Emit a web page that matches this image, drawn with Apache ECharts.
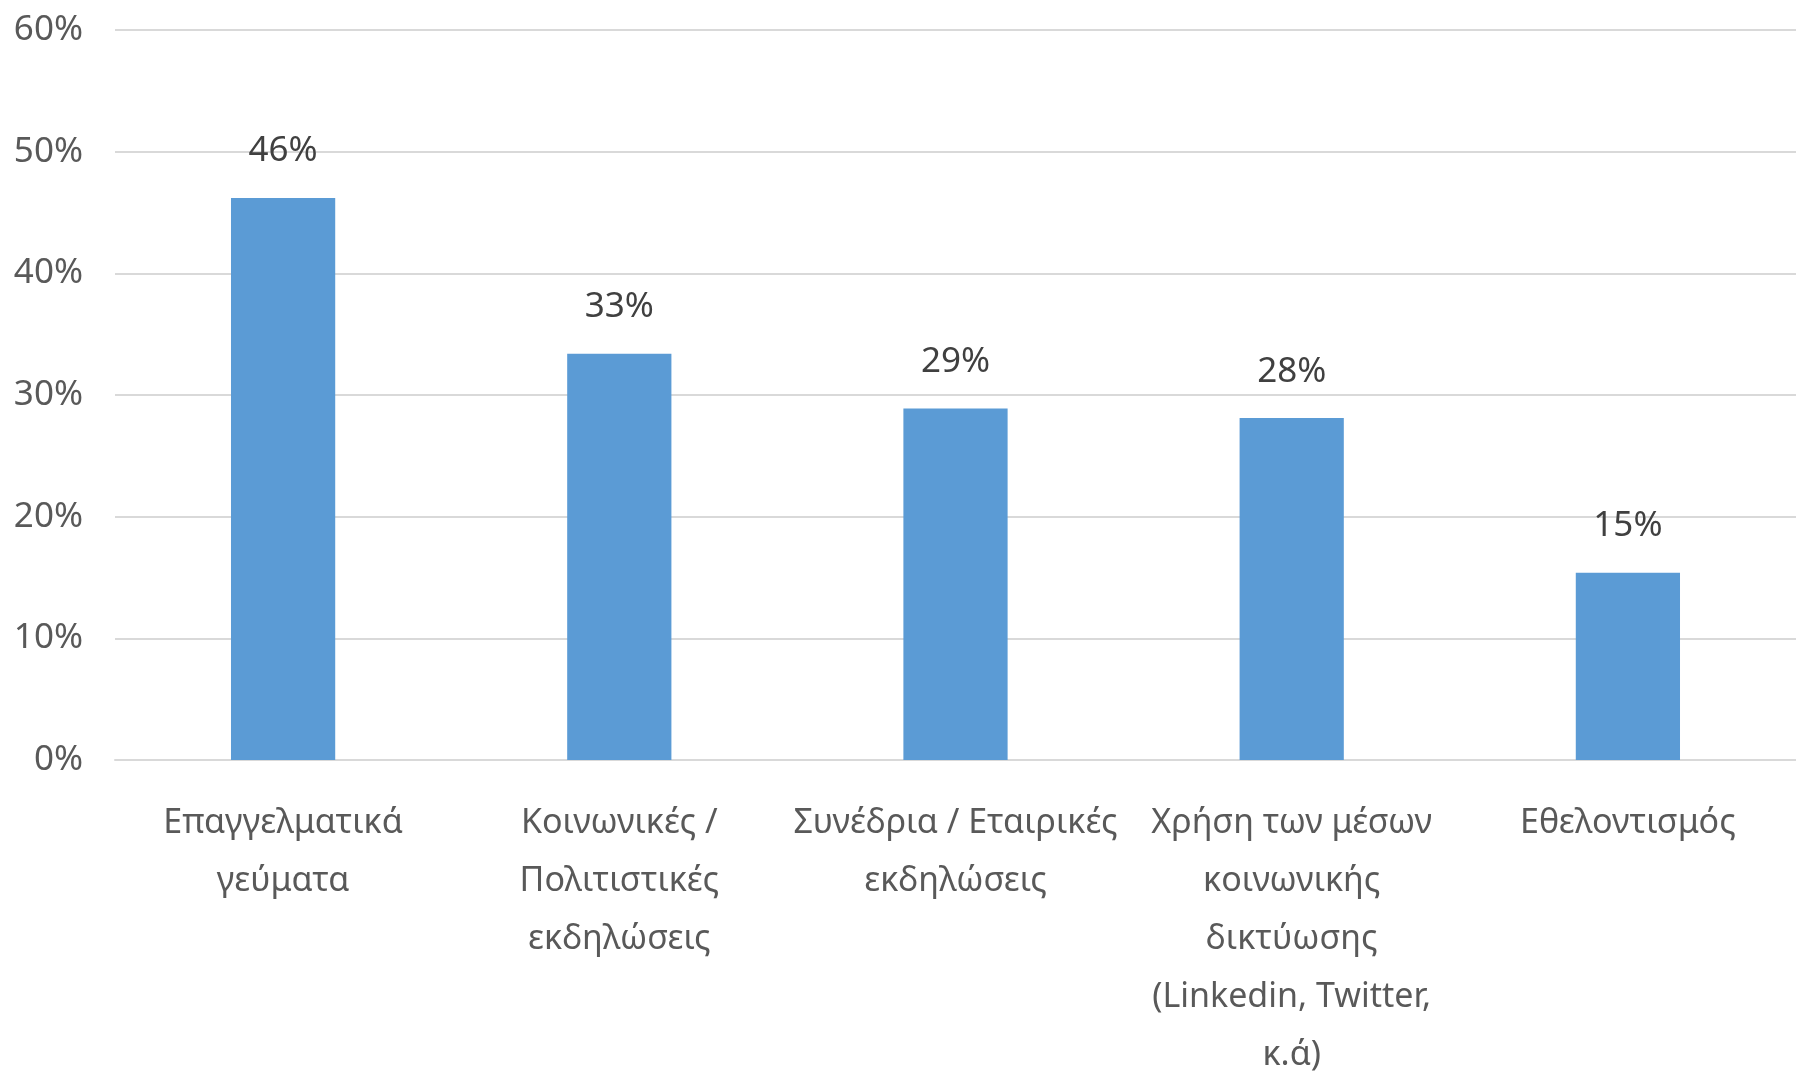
<!DOCTYPE html>
<html>
<head>
<meta charset="utf-8">
<script src="https://cdn.jsdelivr.net/npm/echarts@6/dist/echarts.min.js"></script>
<style>
  html, body { margin: 0; padding: 0; background: #fff; }
  #chart { width: 1796px; height: 1072px; }
</style>
</head>
<body>
<div id="chart"></div>
<script>
const categories = [
  'Επαγγελματικά\nγεύματα',
  'Κοινωνικές /\nΠολιτιστικές\nεκδηλώσεις',
  'Συνέδρια / Εταιρικές\nεκδηλώσεις',
  'Χρήση των μέσων\nκοινωνικής\nδικτύωσης\n(Linkedin, Twitter,\nκ.ά)',
  'Εθελοντισμός'
]
const shares = [46.2, 33.4, 28.9, 28.1, 15.4]
const yTicks = [0, 10, 20, 30, 40, 50, 60]

const textColor = '#595959'
const font = '"Noto Sans", sans-serif'

const chart = echarts.init(document.getElementById('chart'))

chart.setOption({
  animation: false,
  grid: { left: 115, right: 0, top: 30, bottom: 312, outerBoundsMode: 'none', containLabel: false },
  xAxis: {
    type: 'category',
    data: categories,
    axisLine: { lineStyle: { color: '#d9d9d9', width: 2 } },
    axisTick: { show: false },
    axisLabel: {
      color: textColor,
      fontFamily: font,
      fontSize: 34,
      lineHeight: 58,
      margin: 34,
      interval: 0
    }
  },
  yAxis: {
    type: 'value',
    min: yTicks[0],
    max: yTicks[yTicks.length - 1],
    interval: 10,
    axisLine: { show: false },
    axisTick: { show: false },
    splitLine: { lineStyle: { color: '#d9d9d9', width: 2 } },
    axisLabel: {
      color: textColor,
      fontFamily: font,
      fontSize: 35,
      margin: 32,
      formatter: v => v + '%'
    }
  },
  series: [{
    type: 'bar',
    data: shares,
    barWidth: '31%',
    itemStyle: { color: '#5b9bd5' },
    label: {
      show: true,
      position: 'top',
      distance: 29,
      color: '#404040',
      fontFamily: font,
      fontSize: 35,
      formatter: p => Math.round(p.value) + '%'
    }
  }]
})
</script>
</body>
</html>
